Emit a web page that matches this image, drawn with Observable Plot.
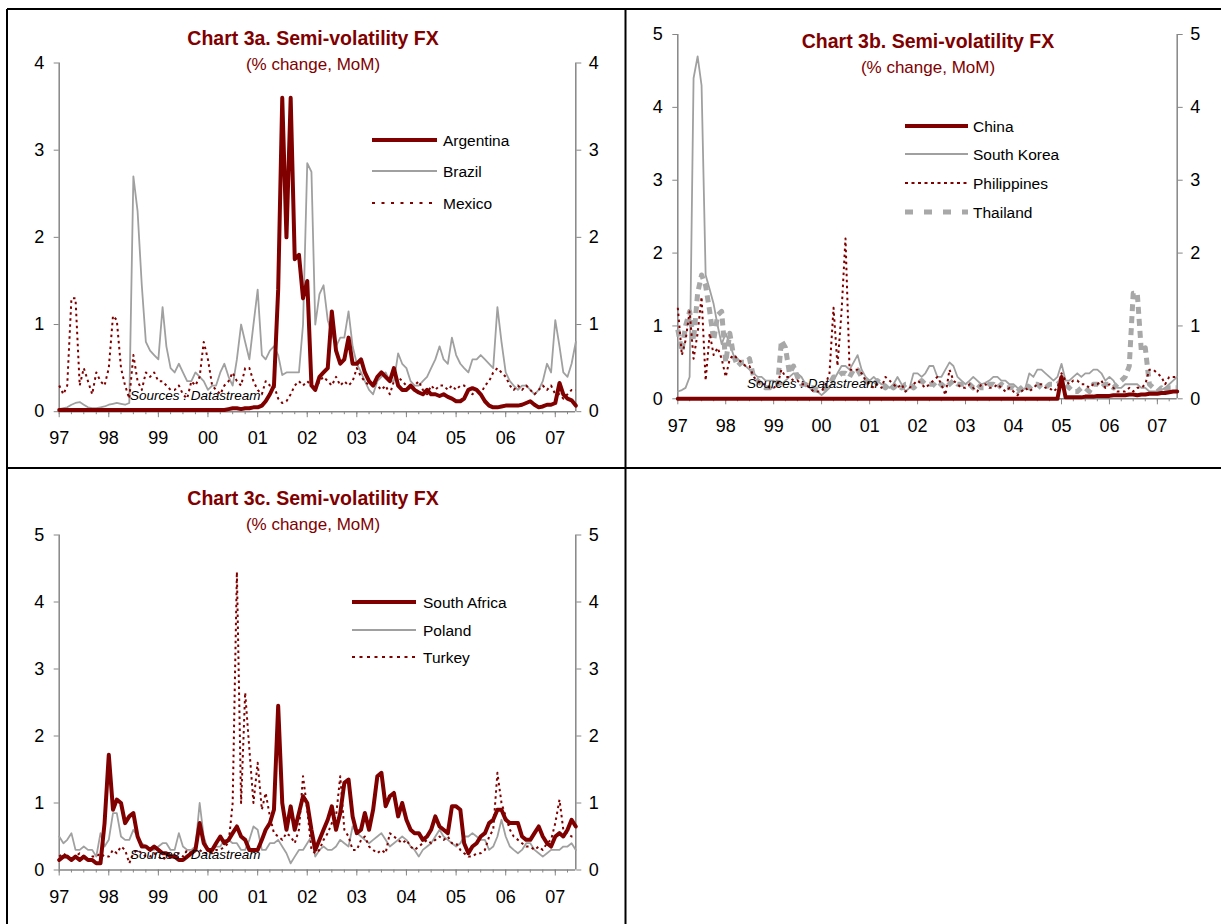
<!DOCTYPE html>
<html><head><meta charset="utf-8">
<script src="https://cdn.jsdelivr.net/npm/d3@7"></script>
<script src="https://cdn.jsdelivr.net/npm/@observablehq/plot@0.6"></script>
<style>
body{margin:0;background:#fff;}
#page{position:relative;width:1221px;height:924px;overflow:hidden;background:#fff;}
#page svg{position:absolute;}
</style></head>
<body><div id="page"></div>
<script>
// ---------- tick labels ----------
const yearLabels = ["97","98","99","00","01","02","03","04","05","06","07"];
const yTicks4 = [0,1,2,3,4];
const yTicks5 = [0,1,2,3,4,5];

// ---------- series (monthly, Jan 1997 .. Jun 2007) ----------
const argentina = [
0.02,0.02,0.02,0.02,0.02,0.02,0.02,0.02,0.02,0.02,0.02,0.02,
0.02,0.02,0.02,0.02,0.02,0.02,0.02,0.02,0.02,0.02,0.02,0.02,
0.02,0.02,0.02,0.02,0.02,0.02,0.02,0.02,0.02,0.02,0.02,0.02,
0.02,0.02,0.02,0.02,0.02,0.03,0.04,0.04,0.03,0.04,0.04,0.05,
0.05,0.07,0.12,0.2,0.3,1.4,3.6,2.0,3.6,1.75,1.8,1.3,
1.5,0.3,0.25,0.4,0.45,0.5,1.15,0.7,0.55,0.6,0.85,0.55,
0.55,0.6,0.45,0.35,0.3,0.4,0.45,0.4,0.35,0.5,0.3,0.25,
0.25,0.3,0.25,0.22,0.2,0.25,0.2,0.2,0.18,0.2,0.17,0.15,
0.12,0.12,0.15,0.25,0.27,0.25,0.2,0.12,0.07,0.05,0.05,0.06,
0.07,0.07,0.07,0.07,0.08,0.1,0.12,0.08,0.05,0.06,0.08,0.08,
0.1,0.33,0.2,0.15,0.13,0.07];
const brazil = [
0.03,0.04,0.05,0.08,0.1,0.11,0.08,0.05,0.04,0.04,0.05,0.06,
0.08,0.09,0.1,0.09,0.08,0.1,2.7,2.3,1.45,0.8,0.7,0.65,
0.6,1.2,0.75,0.5,0.45,0.55,0.45,0.35,0.35,0.45,0.4,0.35,
0.25,0.3,0.3,0.45,0.55,0.4,0.3,0.6,1.0,0.8,0.6,1.0,
1.4,0.65,0.6,0.7,0.75,0.65,0.42,0.45,0.45,0.45,0.45,1.0,
2.85,2.75,1.0,1.35,1.45,1.05,0.9,0.75,0.85,0.85,1.15,0.75,
0.55,0.45,0.35,0.25,0.2,0.35,0.4,0.45,0.35,0.35,0.67,0.55,
0.5,0.35,0.3,0.3,0.35,0.4,0.5,0.6,0.75,0.6,0.55,0.85,
0.65,0.55,0.5,0.45,0.6,0.6,0.65,0.6,0.55,0.5,1.2,0.8,
0.45,0.35,0.3,0.25,0.3,0.3,0.25,0.2,0.25,0.35,0.55,0.45,
1.05,0.75,0.45,0.4,0.55,0.8];
const mexico = [
0.3,0.2,0.3,1.3,1.3,0.3,0.5,0.35,0.2,0.45,0.35,0.3,
0.5,1.1,1.05,0.5,0.3,0.15,0.65,0.35,0.25,0.45,0.4,0.45,
0.35,0.35,0.3,0.25,0.25,0.3,0.2,0.15,0.35,0.3,0.4,0.8,
0.6,0.3,0.25,0.2,0.3,0.35,0.45,0.35,0.3,0.5,0.5,0.35,
0.25,0.2,0.35,0.3,0.3,0.15,0.1,0.12,0.2,0.3,0.35,0.3,
0.35,0.3,0.25,0.35,0.4,0.35,0.3,0.4,0.3,0.35,0.3,0.35,
0.5,0.4,0.35,0.3,0.35,0.3,0.25,0.3,0.2,0.35,0.4,0.35,
0.3,0.25,0.3,0.35,0.25,0.2,0.3,0.25,0.3,0.3,0.25,0.3,
0.25,0.3,0.3,0.25,0.2,0.25,0.2,0.3,0.35,0.45,0.5,0.45,
0.4,0.3,0.25,0.3,0.25,0.3,0.25,0.2,0.25,0.3,0.25,0.3,
0.2,0.2,0.15,0.2,0.25,0.25];
const china = [
0,0,0,0,0,0,0,0,0,0,0,0,
0,0,0,0,0,0,0,0,0,0,0,0,
0,0,0,0,0,0,0,0,0,0,0,0,
0,0,0,0,0,0,0,0,0,0,0,0,
0,0,0,0,0,0,0,0,0,0,0,0,
0,0,0,0,0,0,0,0,0,0,0,0,
0,0,0,0,0,0,0,0,0,0,0,0,
0,0,0,0,0,0,0,0,0,0,0,0,
0.3,0.02,0.02,0.02,0.02,0.02,0.03,0.03,0.03,0.04,0.04,0.04,
0.04,0.05,0.05,0.05,0.05,0.06,0.06,0.05,0.06,0.06,0.07,0.07,
0.07,0.08,0.08,0.09,0.1,0.1];
const southKorea = [
0.1,0.12,0.15,0.3,4.4,4.7,4.3,1.7,1.5,1.3,1.0,0.75,
0.9,0.75,0.6,0.55,0.5,0.45,0.4,0.35,0.3,0.3,0.25,0.25,
0.25,0.2,0.2,0.25,0.3,0.35,0.35,0.3,0.2,0.15,0.1,0.1,
0.05,0.1,0.15,0.25,0.35,0.45,0.45,0.4,0.5,0.6,0.4,0.3,
0.25,0.3,0.25,0.2,0.2,0.15,0.2,0.3,0.2,0.1,0.15,0.35,
0.35,0.3,0.35,0.45,0.45,0.3,0.3,0.4,0.5,0.45,0.3,0.25,
0.2,0.25,0.3,0.25,0.2,0.22,0.25,0.3,0.3,0.25,0.25,0.2,
0.2,0.15,0.1,0.15,0.35,0.3,0.4,0.4,0.35,0.3,0.25,0.3,
0.48,0.25,0.25,0.3,0.35,0.3,0.35,0.35,0.4,0.4,0.35,0.25,
0.3,0.25,0.15,0.15,0.2,0.2,0.2,0.2,0.15,0.15,0.1,0.1,
0.1,0.12,0.15,0.2,0.25,0.3];
const philippines = [
1.25,0.6,0.8,1.2,0.55,0.9,1.4,0.25,0.9,0.6,0.7,0.55,
0.3,0.55,0.6,0.55,0.5,0.45,0.45,0.3,0.25,0.2,0.2,0.15,
0.15,0.2,0.4,0.3,0.3,0.25,0.25,0.2,0.2,0.15,0.1,0.1,
0.1,0.2,0.35,1.25,0.45,1.2,2.2,0.4,0.4,0.4,0.35,0.25,
0.2,0.15,0.2,0.15,0.3,0.25,0.2,0.15,0.2,0.1,0.15,0.2,
0.25,0.2,0.15,0.2,0.25,0.3,0.2,0.05,0.4,0.25,0.2,0.15,
0.15,0.2,0.15,0.1,0.2,0.2,0.15,0.15,0.2,0.15,0.1,0.15,
0.1,0.05,0.1,0.15,0.1,0.15,0.2,0.2,0.15,0.15,0.1,0.15,
0.35,0.25,0.2,0.25,0.25,0.2,0.2,0.15,0.2,0.2,0.25,0.15,
0.2,0.15,0.1,0.1,0.1,0.15,0.1,0.15,0.15,0.2,0.4,0.4,
0.35,0.3,0.2,0.3,0.3,0.3];
const thailand = [
0.95,0.65,1.0,1.2,0.8,1.45,1.7,1.55,1.2,0.8,1.15,1.2,
0.5,0.9,0.6,0.45,0.5,0.5,0.55,0.3,0.25,0.2,0.15,0.15,
0.2,0.2,0.8,0.7,0.35,0.45,0.3,0.2,0.2,0.15,0.15,0.12,
0.12,0.15,0.2,0.3,0.3,0.35,0.35,0.3,0.4,0.4,0.3,0.25,
0.2,0.2,0.25,0.2,0.15,0.2,0.15,0.2,0.15,0.2,0.2,0.15,
0.2,0.25,0.2,0.2,0.2,0.15,0.2,0.15,0.2,0.25,0.2,0.2,
0.2,0.2,0.15,0.2,0.15,0.15,0.2,0.2,0.15,0.2,0.15,0.15,
0.15,0.1,0.15,0.2,0.15,0.2,0.2,0.15,0.15,0.2,0.2,0.2,
0.25,0.2,0.15,0.1,0.1,0.15,0.15,0.1,0.2,0.2,0.15,0.2,
0.2,0.15,0.2,0.25,0.3,0.45,1.45,1.45,0.65,0.7,0.2,0.15,
0.1,0.15,0.1,0.15,0.15,0.15];
const southAfrica = [
0.15,0.2,0.2,0.15,0.2,0.15,0.2,0.15,0.15,0.1,0.1,0.7,
1.72,0.9,1.05,1.0,0.7,0.8,0.85,0.5,0.35,0.35,0.3,0.35,
0.3,0.25,0.25,0.2,0.2,0.15,0.15,0.2,0.25,0.3,0.7,0.4,
0.3,0.3,0.4,0.5,0.4,0.45,0.55,0.65,0.5,0.45,0.3,0.3,
0.3,0.45,0.6,0.7,0.9,2.45,1.0,0.6,0.95,0.6,0.85,1.1,
1.0,0.6,0.3,0.45,0.6,0.75,0.95,0.6,0.85,1.3,1.35,0.8,
0.55,0.6,0.85,0.6,0.9,1.4,1.45,0.95,1.1,1.15,0.8,1.0,
0.75,0.6,0.55,0.55,0.45,0.5,0.6,0.8,0.65,0.6,0.55,0.95,
0.95,0.9,0.4,0.25,0.35,0.4,0.5,0.55,0.7,0.75,0.9,0.9,
0.75,0.7,0.7,0.7,0.5,0.45,0.45,0.55,0.65,0.5,0.4,0.35,
0.5,0.55,0.5,0.6,0.75,0.65];
const poland = [
0.5,0.4,0.45,0.55,0.3,0.3,0.35,0.3,0.3,0.2,0.55,0.35,
0.45,0.85,0.85,0.5,0.45,0.45,0.6,0.5,0.4,0.35,0.3,0.3,
0.35,0.4,0.4,0.3,0.3,0.55,0.35,0.3,0.3,0.35,1.0,0.5,
0.3,0.3,0.35,0.35,0.45,0.45,0.4,0.4,0.3,0.3,0.45,0.65,
0.6,0.3,0.3,0.4,0.4,0.45,0.35,0.25,0.1,0.2,0.3,0.3,
0.4,0.5,0.2,0.3,0.35,0.3,0.3,0.35,0.45,0.4,0.35,0.65,
0.55,0.5,0.45,0.4,0.45,0.5,0.55,0.45,0.35,0.4,0.45,0.5,
0.45,0.35,0.3,0.2,0.3,0.35,0.4,0.5,0.6,0.5,0.45,0.4,
0.35,0.4,0.5,0.5,0.55,0.5,0.45,0.45,0.3,0.35,0.5,0.75,
0.5,0.35,0.3,0.25,0.3,0.4,0.4,0.3,0.25,0.2,0.25,0.3,
0.3,0.3,0.35,0.35,0.4,0.3];
const turkey = [
0.2,0.25,0.2,0.15,0.2,0.25,0.2,0.15,0.2,0.2,0.25,0.2,
0.2,0.3,0.25,0.35,0.3,0.1,0.25,0.3,0.25,0.2,0.2,0.25,
0.2,0.15,0.2,0.25,0.2,0.25,0.2,0.3,0.25,0.3,0.3,0.25,
0.25,0.25,0.3,0.3,0.35,0.4,1.0,4.45,1.0,2.65,1.8,1.0,
1.6,0.9,1.15,0.8,0.55,0.5,0.45,0.55,0.5,0.4,0.6,1.4,
0.9,0.3,0.25,0.3,0.45,0.55,0.7,0.8,1.4,0.6,0.5,0.3,
0.3,0.45,0.5,0.35,0.3,0.25,0.3,0.25,0.55,0.5,0.45,0.4,
0.45,0.35,0.3,0.35,0.4,0.45,0.4,0.45,0.5,0.45,0.5,0.4,
0.4,0.3,0.25,0.2,0.2,0.25,0.25,0.3,0.5,0.6,1.45,1.0,
0.8,0.6,0.5,0.45,0.4,0.35,0.35,0.3,0.35,0.3,0.4,0.45,
0.7,1.05,0.6,0.55,0.5,0.5];

// ---------- styling ----------
const RED = "#800000", GRAY = "#a0a0a0", LGRAY = "#a8a8a8", AXIS = "#868686";
const FONT = "'Liberation Sans', Arial, Helvetica, sans-serif";
const thick = {color: RED, width: 4};
const thin = {color: GRAY, width: 1.8};
const dotted = {color: RED, width: 2, dash: "2.5,3.5"};
const blocky = {color: LGRAY, width: 5, dash: "7,5"};

const X0 = new Date(Date.UTC(1997, 0, 1));
const X1 = new Date(Date.UTC(2007, 5, 1));
const months = d3.utcMonth.range(X0, new Date(Date.UTC(2007, 6, 1)));
const yearDates = yearLabels.map((_, i) => new Date(Date.UTC(1997 + i, 0, 1)));
const quarterDates = d3.utcMonth.every(3).range(X0, X1);
const rows = vals => vals.map((v, i) => ({date: months[i], v}));
const page = document.getElementById("page");

function makePanel(cfg) {
  const marks = [
    Plot.ruleY([0], {stroke: AXIS, strokeWidth: 1.5}),
    Plot.ruleX([X0], {stroke: AXIS, strokeWidth: 1.5}),
    Plot.ruleX([X1], {stroke: AXIS, strokeWidth: 1.5}),
    Plot.axisY({anchor: "left", ticks: cfg.yTicks, tickSize: 5, tickPadding: 10, stroke: AXIS, fill: "black", tickFormat: d => String(d)}),
    Plot.axisY({anchor: "right", ticks: cfg.yTicks, tickSize: 5, tickPadding: 8, stroke: AXIS, fill: "black", tickFormat: d => String(d)}),
    Plot.axisX({anchor: "bottom", ticks: quarterDates, tickSize: 3, stroke: AXIS, tickFormat: () => ""}),
    Plot.axisX({anchor: "bottom", ticks: yearDates, tickSize: 6, tickPadding: 14, stroke: AXIS, fill: "black",
      tickFormat: d => yearLabels[d.getUTCFullYear() - 1997]})
  ];
  for (const s of cfg.series) {
    marks.push(Plot.line(rows(s.values), {
      x: "date", y: "v", stroke: s.style.color, strokeWidth: s.style.width,
      strokeDasharray: s.style.dash, strokeLinecap: s.style.dash ? "butt" : "round",
      strokeLinejoin: "round"
    }));
  }
  const svg = Plot.plot({
    width: cfg.width, height: cfg.height,
    marginLeft: cfg.ml, marginRight: cfg.mr, marginTop: cfg.mt, marginBottom: cfg.mb,
    x: {type: "utc", domain: [X0, X1], label: null},
    y: {domain: [0, cfg.yMax], label: null},
    style: {fontFamily: FONT, fontSize: "18px", color: "black", background: "transparent", overflow: "visible"},
    marks
  });
  svg.style.left = cfg.left + "px";
  svg.style.top = cfg.top + "px";
  page.appendChild(svg);
}

// Chart 3a
makePanel({left: 0, top: 0, width: 626, height: 468, ml: 58.7, mr: 50.7, mt: 62.5, mb: 56.8, yMax: 4, yTicks: yTicks4,
  series: [
    {values: brazil, style: thin},
    {values: mexico, style: dotted},
    {values: argentina, style: thick}
  ]});
// Chart 3b
makePanel({left: 626, top: 0, width: 595, height: 468, ml: 51.3, mr: 44.3, mt: 34.0, mb: 69.7, yMax: 5, yTicks: yTicks5,
  series: [
    {values: southKorea, style: thin},
    {values: thailand, style: blocky},
    {values: philippines, style: dotted},
    {values: china, style: thick}
  ]});
// Chart 3c
makePanel({left: 0, top: 468, width: 626, height: 456, ml: 58.7, mr: 50.7, mt: 66.5, mb: 54.5, yMax: 5, yTicks: yTicks5,
  series: [
    {values: poland, style: thin},
    {values: turkey, style: dotted},
    {values: southAfrica, style: thick}
  ]});

// ---------- overlay: frame, titles, legends, sources ----------
const ov = d3.select(page).append("svg").attr("width", 1221).attr("height", 924)
  .style("left", "0px").style("top", "0px").style("font-family", FONT);
const frame = [[7, 9, 1221, 9], [7, 9, 7, 924], [625.5, 9, 625.5, 924], [7, 468, 1221, 468]];
ov.selectAll("line.frame").data(frame).join("line").attr("class", "frame")
  .attr("x1", d => d[0]).attr("y1", d => d[1]).attr("x2", d => d[2]).attr("y2", d => d[3])
  .attr("stroke", "#000").attr("stroke-width", 2);

const titles = [
  {x: 313, y: 45, t: "Chart 3a. Semi-volatility FX"},
  {x: 928, y: 48, t: "Chart 3b. Semi-volatility FX"},
  {x: 313, y: 505, t: "Chart 3c. Semi-volatility FX"}
];
for (const d of titles) {
  ov.append("text").attr("x", d.x).attr("y", d.y).attr("text-anchor", "middle")
    .attr("font-size", 19.5).attr("font-weight", "bold").attr("fill", RED).text(d.t);
  ov.append("text").attr("x", d.x).attr("y", d.y + 25).attr("text-anchor", "middle")
    .attr("font-size", 17).attr("fill", RED).text("(% change, MoM)");
}

const legends = [
  {x1: 372, x2: 437, tx: 443, items: [
    {y: 140, name: "Argentina", s: thick},
    {y: 171, name: "Brazil", s: thin},
    {y: 203, name: "Mexico", s: {color: RED, width: 2, dash: "3,6.5"}}]},
  {x1: 905, x2: 968, tx: 973, items: [
    {y: 126, name: "China", s: thick},
    {y: 154, name: "South Korea", s: thin},
    {y: 183, name: "Philippines", s: {color: RED, width: 2, dash: "3,3.5"}},
    {y: 212, name: "Thailand", s: {color: LGRAY, width: 5, dash: "8,11"}}]},
  {x1: 352, x2: 416, tx: 423, items: [
    {y: 602, name: "South Africa", s: thick},
    {y: 630, name: "Poland", s: thin},
    {y: 657, name: "Turkey", s: {color: RED, width: 2, dash: "3,4.5"}}]}
];
for (const lg of legends) {
  for (const it of lg.items) {
    ov.append("line").attr("x1", lg.x1).attr("x2", lg.x2).attr("y1", it.y).attr("y2", it.y)
      .attr("stroke", it.s.color).attr("stroke-width", it.s.width)
      .attr("stroke-dasharray", it.s.dash || null);
    ov.append("text").attr("x", lg.tx).attr("y", it.y).attr("dy", "0.36em")
      .attr("font-size", 15.5).attr("fill", "#000").text(it.name);
  }
}

const sources = [{x: 130, y: 400}, {x: 747, y: 388}, {x: 130, y: 859}];
for (const s of sources) {
  ov.append("text").attr("x", s.x).attr("y", s.y).attr("font-size", 13.5)
    .attr("font-style", "italic").attr("fill", "#000").text("Sources : Datastream");
}
</script></body></html>
